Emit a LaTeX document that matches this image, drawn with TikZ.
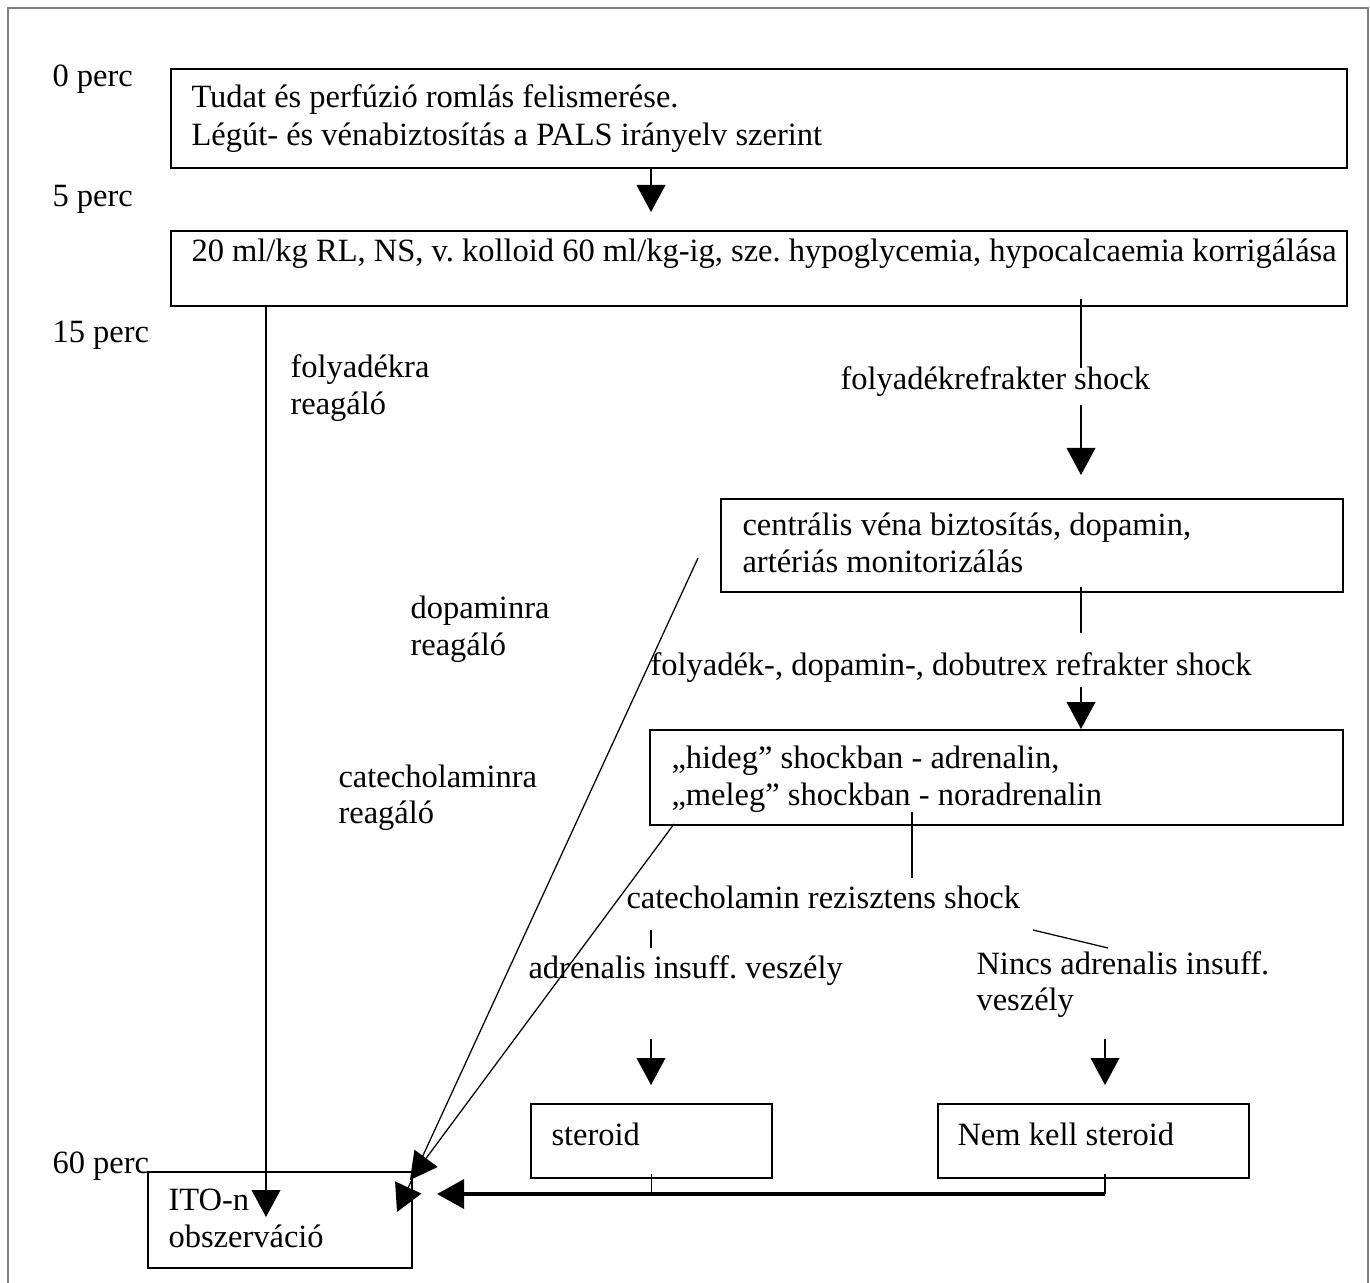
\documentclass[tikz,border=0pt]{standalone}
\usepackage{fontspec}
\setmainfont{Liberation Serif}
\usetikzlibrary{arrows.meta}
\frenchspacing
\tikzset{
  box/.style={draw, line width=0.8pt, inner sep=0pt, anchor=north west},
  txt/.style={anchor=base west, inner sep=0pt, font=\fontsize{13}{15}\selectfont},
  link/.style={line width=0.5pt},
  tip/.style={-{Triangle[length=10.8pt,width=11.5pt]}},
}
\begin{document}
\begin{tikzpicture}[x=0.4pt,y=-0.4pt]
\useasboundingbox (0,0) rectangle (1370,1283);
\draw[gray, line width=0.6pt] (8,1300) -- (8,8) -- (1368,8) -- (1368,1300);
% time marks
\foreach \t/\y in {0/87,5/207,15/343,60/1173} \node[txt] (perc\t) at (52,\y) {\t\ perc};
% boxes
\node[box, minimum width=470.4pt, minimum height=39.6pt] (recog) at (170,68) {};
\node[box, minimum width=470.4pt, minimum height=30pt] (fluid) at (170,230) {};
\node[box, minimum width=248.8pt, minimum height=37.2pt] (central) at (720,498) {};
\node[box, minimum width=277.2pt, minimum height=38pt] (catech) at (649,729) {};
\node[box, minimum width=96.4pt, minimum height=29.6pt] (steroid) at (530,1103) {};
\node[box, minimum width=124.4pt, minimum height=29.6pt] (nosteroid) at (937,1103) {};
\node[box, minimum width=105.6pt, minimum height=38.4pt] (ito) at (147,1171) {};
% box texts
\node[txt] (recogA) at (191,108) {Tudat és perfúzió romlás felismerése.};
\node[txt] (recogB) at (191,146) {Légút- és vénabiztosítás a PALS irányelv szerint};
\node[txt] (fluidA) at (191,262) {20 ml/kg RL, NS, v. kolloid 60 ml/kg-ig, sze. hypoglycemia, hypocalcaemia korrigálása};
\node[txt] (centralA) at (742,536) {centrális véna biztosítás, dopamin,};
\node[txt] (centralB) at (742,572) {artériás monitorizálás};
\node[txt] (catechA) at (671,768) {„hideg” shockban - adrenalin,};
\node[txt] (catechB) at (671,805) {„meleg” shockban - noradrenalin};
\node[txt] (steroidA) at (551,1145) {steroid};
\node[txt] (nosteroidA) at (957,1145) {Nem kell steroid};
\node[txt] (itoA) at (168,1210) {ITO-n};
\node[txt] (itoB) at (168,1247) {obszerváció};
% branch labels
\node[txt] (okFluidA) at (290,378) {folyadékra};
\node[txt] (okFluidB) at (290,415) {reagáló};
\node[txt] (refrFluid) at (840,390) {folyadékrefrakter shock};
\node[txt] (okDopaA) at (410,619) {dopaminra};
\node[txt] (okDopaB) at (410,655) {reagáló};
\node[txt] (refrDopa) at (650,675) {folyadék-, dopamin-, dobutrex refrakter shock};
\node[txt] (okCatA) at (338,787) {catecholaminra};
\node[txt] (okCatB) at (338,823) {reagáló};
\node[txt] (resCat) at (626,908) {catecholamin rezisztens shock};
\node[txt] (riskA) at (528,978) {adrenalis insuff. veszély};
\node[txt] (noRiskA) at (976,974) {Nincs adrenalis insuff.};
\node[txt] (noRiskB) at (976,1010) {veszély};
% free ends
\coordinate (a1) at (651,212);
\coordinate (lv) at (266,1217);
\coordinate (r1) at (1081,368);
\coordinate (r2) at (1081,405);
\coordinate (r2t) at (1081,475);
\coordinate (r3) at (1081,633);
\coordinate (r4) at (1081,687);
\coordinate (m1) at (912,878);
\coordinate (d1) at (651,930);
\coordinate (d2) at (651,948);
\coordinate (e1) at (1033,930);
\coordinate (e2) at (1108,948);
\coordinate (s1) at (651,1039);
\coordinate (s1t) at (651,1085);
\coordinate (s2) at (1105,1039);
\coordinate (s2t) at (1105,1085);
\coordinate (j) at (1105,1194);
\coordinate (jt) at (437,1194);
\coordinate (ga) at (698,558);
\coordinate (gat) at (397,1212);
\coordinate (gbt) at (410,1180);
% connectors
\draw[link,tip] (recog.south -| a1) -- (a1);
\draw[link,tip] (fluid.south -| lv) -- (lv);
\draw[link] ([yshift=3.2pt]fluid.south -| r1) -- (r1);
\draw[link,tip] (r2) -- (r2t);
\draw[link] ([yshift=2.4pt]central.south -| r3) -- (r3);
\draw[link,tip] (r4) -- (catech.north -| r4);
\draw[link] ([yshift=5.6pt]catech.south -| m1) -- (m1);
\draw[link] (d1) -- (d2);
\draw[link] (e1) -- (e2);
\draw[link,tip] (s1) -- (s1t);
\draw[link,tip] (s2) -- (s2t);
\draw[link] ([yshift=2pt]steroid.south) -- (steroid.south |- j);
\draw[link] ([yshift=2pt]nosteroid.south -| j) -- (j);
\draw[line width=1.6pt,tip] (j) -- (jt);
\draw[link,tip] (ga) -- (gat);
\draw[link,tip] ([shift={(25,-2)}]catech.south west) -- (gbt);
\end{tikzpicture}
\end{document}
